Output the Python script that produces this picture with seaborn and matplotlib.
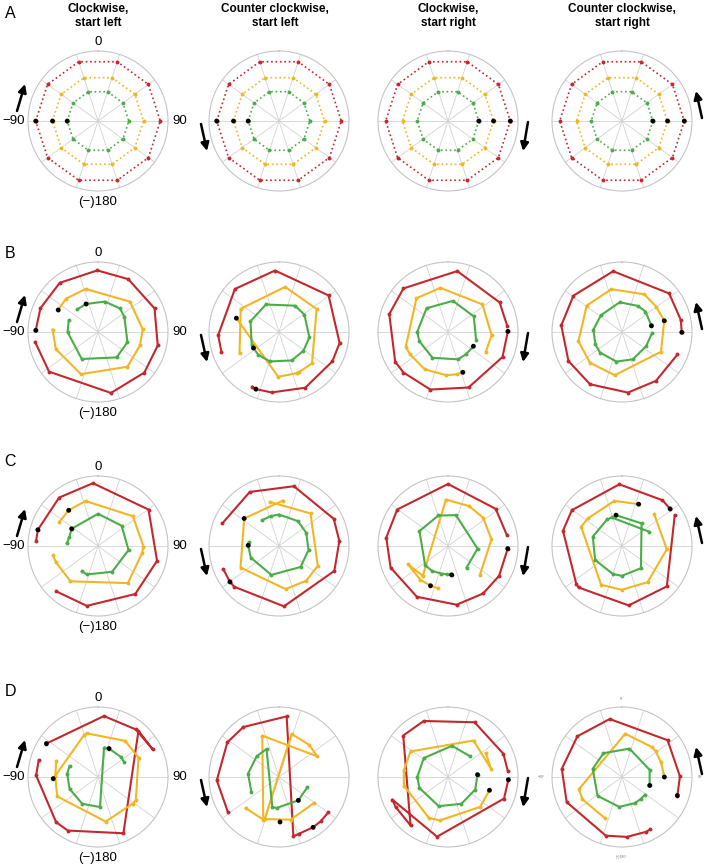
import numpy as np
import matplotlib
matplotlib.use("Agg")
import matplotlib.pyplot as plt
from matplotlib.patches import FancyArrowPatch
import seaborn as sns

# ---------------- data (theta in degrees clockwise from top, r as fraction of max) -------------
col_titles = ["Clockwise,\nstart left", "Counter clockwise,\nstart left",
              "Clockwise,\nstart right", "Counter clockwise,\nstart right"]
row_letters = ["A", "B", "C", "D"]
grid_angles = [18, 54, 90, 126, 162, 198, 234, 270, 306, 342]

# Row A: ideal trajectories (dotted)
A_angles_left = [-90, -54, -18, 18, 54, 90, 126, 162, 198, 234, 270]
A_angles_right = [90, 126, 162, 198, 234, 270, 306, 342, 378, 414, 450]
A_ring_r = {"red": 0.89, "yellow": 0.65, "green": 0.44}
A_start = [-90, -90, 90, 90]

# Row B
B1_red_theta = [-88.5, -67.6, -37.9, -0.6, 29.8, 67.3, 102.7, 131.2, 168, 231, 261]
B1_red_r = [0.89, 0.89, 0.89, 0.88, 0.87, 0.875, 0.875, 0.88, 0.89, 0.90, 0.91]
B1_yellow_theta = [-61, -44, -16, 46.5, 86.6, 107.7, 139.8, 202, 248, 273]
B1_yellow_r = [0.65, 0.66, 0.64, 0.63, 0.64, 0.63, 0.65, 0.65, 0.65, 0.65]
B1_green_theta = [-43, -23, 12.5, 42.9, 60, 109, 143.7, 211, 270, 292]
B1_green_r = [0.44, 0.435, 0.445, 0.46, 0.435, 0.445, 0.45, 0.45, 0.435, 0.45]
B1_start_theta = [-88.5, -61, -23]
B1_start_r = [0.89, 0.65, 0.435]

B2_red_theta = [-153.9, -157.9, -173, 154.8, 118.8, 100.3, 53.6, -3.7, -45.7, -93, -109]
B2_red_r = [0.87, 0.88, 0.87, 0.88, 0.87, 0.88, 0.88, 0.88, 0.88, 0.87, 0.87]
B2_yellow_theta = [-72, -179, 156.7, 153, 133.5, 58.6, 7.7, -58.8, -118.3]
B2_yellow_r = [0.64, 0.64, 0.64, 0.64, 0.65, 0.63, 0.65, 0.64, 0.64]
B2_green_theta = [-122, -137.6, -163, 155.9, 127.5, 100, 55.6, 31.3, -25.4, -69.4, -114.9]
B2_green_r = [0.43, 0.44, 0.44, 0.445, 0.44, 0.44, 0.44, 0.44, 0.435, 0.435, 0.43]
B2_start_theta = [-157.9, -72, -122]
B2_start_r = [0.88, 0.64, 0.43]

B3_red_theta = [89.4, 114.7, 159.7, -163, -132.3, -119.4, -73.1, -45.6, 8.6, 60.2, 84]
B3_red_r = [0.855, 0.857, 0.845, 0.86, 0.86, 0.866, 0.877, 0.89, 0.88, 0.85, 0.85]
B3_yellow_theta = [159.8, 168, -177.8, -148.2, -120.6, -109.4, -43, -9.7, 51.3, 94.3, 117.6]
B3_yellow_r = [0.613, 0.617, 0.618, 0.627, 0.63, 0.64, 0.66, 0.64, 0.63, 0.625, 0.61]
B3_green_theta = [119.2, 141, 160.1, -149, -107.8, -90, -42, 9, 58.9, 105]
B3_green_r = [0.416, 0.41, 0.415, 0.43, 0.43, 0.44, 0.457, 0.45, 0.43, 0.415]
B3_start_theta = [89.4, 159.8, 119.2]
B3_start_r = [0.855, 0.613, 0.416]

B4_red_theta = [90.3, 78.3, 50.7, -8.3, -53.2, -83.8, -118.5, -148.5, 174.4, 145.2, 112]
B4_red_r = [0.854, 0.857, 0.87, 0.877, 0.866, 0.873, 0.87, 0.875, 0.87, 0.85, 0.855]
B4_yellow_theta = [75.1, 53.2, 30.8, -13.8, -53.2, -102, -133.8, -170.5, 117, 75.1]
B4_yellow_r = [0.625, 0.607, 0.626, 0.63, 0.63, 0.636, 0.634, 0.626, 0.624, 0.625]
B4_green_theta = [78, 48.9, 31.3, -4.4, -51.7, -85.4, -115.1, -133.2, -169.3, 158.3, 120.5, 91.9]
B4_green_r = [0.43, 0.445, 0.436, 0.426, 0.385, 0.41, 0.42, 0.43, 0.43, 0.42, 0.40, 0.43]
B4_start_theta = [90.3, 75.1, 78]
B4_start_r = [0.854, 0.625, 0.43]

# Row C
C1_red_theta = [-85.3, -74.9, -38.8, -4.6, 54.2, 104.1, 142.2, -169.4, -137.5]
C1_red_r = [0.887, 0.89, 0.887, 0.90, 0.89, 0.87, 0.868, 0.87, 0.88]
C1_yellow_theta = [-58.3, -39.4, -15.5, 49.5, 90.8, 99.6, 141.2, -142, -110.6, -101.5]
C1_yellow_r = [0.65, 0.66, 0.667, 0.655, 0.65, 0.637, 0.68, 0.64, 0.645, 0.655]
C1_green_theta = [-85, -71.8, -56.8, 0, 49.4, 97.6, 151.4, -158.6, -147.4]
C1_green_r = [0.447, 0.43, 0.45, 0.46, 0.445, 0.44, 0.42, 0.436, 0.43]
C1_start_theta = [-74.9, -39.4, -56.8]
C1_start_r = [0.89, 0.66, 0.45]

C2_red_theta = [-112.6, -126.1, -132.3, 175.3, 114.2, 85.3, 63.6, 14, -28.4, -68.3]
C2_red_r = [0.862, 0.868, 0.865, 0.865, 0.867, 0.865, 0.873, 0.88, 0.878, 0.872]
C2_yellow_theta = [5, -51.7, -119.3, 171.3, 142, 117.2, 44.1, -11.9]
C2_yellow_r = [0.652, 0.634, 0.63, 0.623, 0.63, 0.623, 0.647, 0.644]
C2_green_theta = [-82.5, -88.8, -112.4, -165.2, 134.1, 97.7, 64, 37.2, 0, -15.5, -32.7]
C2_green_r = [0.435, 0.44, 0.436, 0.427, 0.43, 0.426, 0.432, 0.446, 0.45, 0.443, 0.44]
C2_start_theta = [-126.1, -51.7, -88.8]
C2_start_r = [0.868, 0.634, 0.44]

C3_red_theta = [92.5, 120.3, 143.5, 171.6, -148.4, -110.6, -82.3, -54.3, 0, 52.1, 79.1]
C3_red_r = [0.854, 0.845, 0.844, 0.848, 0.851, 0.876, 0.89, 0.893, 0.886, 0.864, 0.854]
C3_yellow_theta = [132.5, 81.3, 51.3, 28.1, -2.5, -139.8, -114.4, -140.9, -156.2, -166.3]
C3_yellow_r = [0.617, 0.628, 0.644, 0.645, 0.664, 0.558, 0.63, 0.623, 0.62, 0.62]
C3_green_theta = [139.3, 95.1, 14.5, -17.5, -62.4, -130, -147.4, -165.8, -177.3, 172.8]
C3_green_r = [0.407, 0.424, 0.455, 0.457, 0.46, 0.427, 0.422, 0.406, 0.403, 0.415]
C3_start_theta = [92.5, -156.2, 172.8]
C3_start_r = [0.854, 0.62, 0.415]

C4_red_theta = [52.3, 41.5, -2.5, -54.4, -75.5, -129.6, -133.7, 173.6, 132, 59.7]
C4_red_r = [0.868, 0.873, 0.882, 0.88, 0.871, 0.848, 0.858, 0.854, 0.862, 0.873]
C4_yellow_theta = [21.6, -9.6, -51.1, -64.8, -151.7, -179.6, 144.8, 94.2, 45.3]
C4_yellow_r = [0.643, 0.654, 0.627, 0.645, 0.63, 0.626, 0.633, 0.642, 0.647]
C4_green_theta = [62.3, -19.8, -29.4, -72.3, -117.4, -161.6, -179.4, 139.6, 40.9, -10.95]
C4_green_r = [0.439, 0.433, 0.435, 0.438, 0.432, 0.42, 0.427, 0.417, 0.427, 0.449]
C4_start_theta = [52.3, 21.6, -10.95]
C4_start_r = [0.868, 0.643, 0.449]

# Row D
D1_red_theta = [-57, 5.6, 38.5, 63, 41.2, 155.7, -150.6, -137.2, -88.5, -74.2]
D1_red_r = [0.878, 0.875, 0.868, 0.875, 0.878, 0.882, 0.878, 0.88, 0.885, 0.88]
D1_yellow_theta = [-69, -89.1, -115.4, 170.2, 127.8, 121.8, 64.4, 36.9, -13.8, -18.6, -92.1]
D1_yellow_r = [0.64, 0.61, 0.646, 0.646, 0.624, 0.636, 0.642, 0.646, 0.64, 0.63, 0.64]
D1_green_theta = [60, 48.6, 21.2, 11.6, 176.2, -149.6, -112.4, -83.8, -68.8]
D1_green_r = [0.43, 0.434, 0.436, 0.43, 0.43, 0.444, 0.44, 0.443, 0.436]
D1_start_theta = [-57, -92.1, 21.2]
D1_start_r = [0.878, 0.64, 0.436]

D2_red_theta = [125.6, 136.8, 145.9, 160.6, 166.4, 7.2, -35.5, -56.1, -93.1, -124.7]
D2_red_r = [0.867, 0.869, 0.868, 0.859, 0.872, 0.873, 0.877, 0.889, 0.89, 0.886]
D2_yellow_theta = [-132.9, -159.8, -22, 61.7, 42.9, 16.4, -161.2, 164.7, 126.6]
D2_yellow_r = [0.65, 0.65, 0.637, 0.622, 0.63, 0.64, 0.635, 0.632, 0.623]
D2_green_theta = [110, 140.4, -175.7, -167.5, -24, -47.2, -83.9, -119]
D2_green_r = [0.431, 0.433, 0.444, 0.439, 0.439, 0.435, 0.445, 0.45]
D2_start_theta = [145.9, 178.7, 140.4]
D2_start_r = [0.868, 0.643, 0.433]

D3_red_theta = [92.5, 111, -169.6, -112, -119.7, -142.3, -47.2, -23.4, 25.9, 67.3, 84]
D3_red_r = [0.863, 0.858, 0.867, 0.859, 0.862, 0.875, 0.872, 0.872, 0.869, 0.858, 0.858]
D3_yellow_theta = [107.7, 132.9, -169.2, -154.8, -101, -81.4, -55.7, 35, 79.5, 57.7]
D3_yellow_r = [0.622, 0.627, 0.632, 0.645, 0.642, 0.637, 0.648, 0.636, 0.627, 0.639]
D3_green_theta = [85.5, 114.9, 153.7, -162.3, -111, -90, -52, 7.3, 47.2]
D3_green_r = [0.423, 0.428, 0.428, 0.437, 0.437, 0.44, 0.439, 0.449, 0.433]
D3_start_theta = [92.5, 107.7, 85.5]
D3_start_r = [0.863, 0.622, 0.423]

D4_red_theta = [108.5, 89.4, 51.1, -12, -47.6, -82.3, -114.4, -164.5, 175.3, 155.9, 151.5]
D4_red_r = [0.834, 0.828, 0.837, 0.847, 0.863, 0.868, 0.868, 0.869, 0.859, 0.856, 0.847]
D4_yellow_theta = [90, 69.4, 52.2, 45, 4.3, -105.7, -119.1, -157.7]
D4_yellow_r = [0.605, 0.596, 0.607, 0.605, 0.62, 0.638, 0.65, 0.638]
D4_green_theta = [107, 75.5, 14.8, -38, -74.5, -127.7, -175, 153.4, 139.1, 128.2]
D4_green_r = [0.413, 0.408, 0.419, 0.431, 0.434, 0.441, 0.429, 0.416, 0.412, 0.414]
D4_start_theta = [108.5, 90, 107]
D4_start_r = [0.834, 0.605, 0.413]

# ---------------- styling ----------------
COLORS = {"red": "#c3282c", "yellow": "#f2b624", "green": "#4bad47"}
W, H = 705, 867
R = 70
col_cx = [98, 279, 448, 622]
row_cy = [121, 332, 546, 777]

plt.rcParams["font.family"] = ["Liberation Sans", "DejaVu Sans"]

panels = {
    (1, 0): (B1_red_theta, B1_red_r, B1_yellow_theta, B1_yellow_r, B1_green_theta, B1_green_r, B1_start_theta, B1_start_r),
    (1, 1): (B2_red_theta, B2_red_r, B2_yellow_theta, B2_yellow_r, B2_green_theta, B2_green_r, B2_start_theta, B2_start_r),
    (1, 2): (B3_red_theta, B3_red_r, B3_yellow_theta, B3_yellow_r, B3_green_theta, B3_green_r, B3_start_theta, B3_start_r),
    (1, 3): (B4_red_theta, B4_red_r, B4_yellow_theta, B4_yellow_r, B4_green_theta, B4_green_r, B4_start_theta, B4_start_r),
    (2, 0): (C1_red_theta, C1_red_r, C1_yellow_theta, C1_yellow_r, C1_green_theta, C1_green_r, C1_start_theta, C1_start_r),
    (2, 1): (C2_red_theta, C2_red_r, C2_yellow_theta, C2_yellow_r, C2_green_theta, C2_green_r, C2_start_theta, C2_start_r),
    (2, 2): (C3_red_theta, C3_red_r, C3_yellow_theta, C3_yellow_r, C3_green_theta, C3_green_r, C3_start_theta, C3_start_r),
    (2, 3): (C4_red_theta, C4_red_r, C4_yellow_theta, C4_yellow_r, C4_green_theta, C4_green_r, C4_start_theta, C4_start_r),
    (3, 0): (D1_red_theta, D1_red_r, D1_yellow_theta, D1_yellow_r, D1_green_theta, D1_green_r, D1_start_theta, D1_start_r),
    (3, 1): (D2_red_theta, D2_red_r, D2_yellow_theta, D2_yellow_r, D2_green_theta, D2_green_r, D2_start_theta, D2_start_r),
    (3, 2): (D3_red_theta, D3_red_r, D3_yellow_theta, D3_yellow_r, D3_green_theta, D3_green_r, D3_start_theta, D3_start_r),
    (3, 3): (D4_red_theta, D4_red_r, D4_yellow_theta, D4_yellow_r, D4_green_theta, D4_green_r, D4_start_theta, D4_start_r),
}

fig = plt.figure(figsize=(W / 100, H / 100), dpi=100)
fig.patch.set_facecolor("white")


def fx(px):
    return px / W


def fy(py):
    return 1 - py / H


def make_polar(cx, cy):
    ax = fig.add_axes([fx(cx - R), fy(cy + R), 2 * R / W, 2 * R / H], projection="polar")
    ax.set_theta_zero_location("N")
    ax.set_theta_direction(-1)
    ax.set_facecolor("none")
    return ax


def finish_polar(ax):
    ax.set_ylim(0, 1)
    ax.set_yticks([])
    ax.set_xticks(np.radians(grid_angles))
    ax.set_xticklabels([])
    ax.xaxis.grid(True, color="#d2d2d2", lw=0.6)
    ax.spines["polar"].set_color("#c4c4c4")
    ax.spines["polar"].set_linewidth(0.8)
    ax.set_xlabel("")
    ax.set_ylabel("")


def trace(ax, theta, r, color, dotted=False):
    sns.lineplot(x=np.radians(theta), y=r, sort=False, estimator=None, ax=ax,
                 color=color, lw=1.2 if dotted else 1.5,
                 linestyle=":" if dotted else "-",
                 marker="o", markersize=2.8, markeredgewidth=0, zorder=3)


def starts(ax, theta, r):
    sns.scatterplot(x=np.radians(theta), y=r, ax=ax, color="black", s=12,
                    edgecolor="none", zorder=6, legend=False)


for row in range(4):
    for col in range(4):
        cx, cy = col_cx[col], row_cy[row]
        ax = make_polar(cx, cy)
        if row == 0:
            angles = A_angles_left if col < 2 else A_angles_right
            for name in ["red", "yellow", "green"]:
                trace(ax, angles, [A_ring_r[name]] * len(angles), COLORS[name], dotted=True)
            starts(ax, [A_start[col]] * 3, [A_ring_r["red"], A_ring_r["yellow"], A_ring_r["green"]])
        else:
            rt, rr, yt, yr, gt, gr, st, sr = panels[(row, col)]
            trace(ax, rt, rr, COLORS["red"])
            trace(ax, yt, yr, COLORS["yellow"])
            trace(ax, gt, gr, COLORS["green"])
            starts(ax, st, sr)
        finish_polar(ax)

        # direction arrows
        if col == 0:
            tail, head = (cx - 81, cy - 10), (cx - 73, cy - 37)
        elif col == 1:
            tail, head = (cx - 78, cy + 3), (cx - 72, cy + 30)
        elif col == 2:
            tail, head = (cx + 80, cy + 1), (cx + 75, cy + 30)
        else:
            tail, head = (cx + 80, cy - 3), (cx + 74, cy - 30)
        arr = FancyArrowPatch((fx(tail[0]), fy(tail[1])), (fx(head[0]), fy(head[1])),
                              transform=fig.transFigure, arrowstyle="-|>",
                              mutation_scale=12, color="black", lw=1.8,
                              shrinkA=0, shrinkB=0)
        fig.add_artist(arr)

        # angle labels in first column
        if col == 0:
            fig.text(fx(cx), fy(cy - 79), "0", ha="center", va="center", fontsize=9.5)
            fig.text(fx(cx + 74), fy(cy), "90", ha="left", va="center", fontsize=9.5)
            fig.text(fx(cx - 73), fy(cy), "\u221290", ha="right", va="center", fontsize=9.5)
            fig.text(fx(cx), fy(cy + 81), "(\u2212)180", ha="center", va="center", fontsize=9.5)

# tiny stray labels seen on the last panel
cx, cy = col_cx[3], row_cy[3]
for txt, px, py in [("0\u00b0", cx, cy - 78), ("\u221290\u00b0", cx - 81, cy),
                    ("90\u00b0", cx + 79, cy), ("(\u2212)180\u00b0", cx, cy + 80)]:
    fig.text(fx(px), fy(py), txt, ha="center", va="center", fontsize=2.5, color="#777777")

# column titles and row letters
for col, t in enumerate(col_titles):
    fig.text(fx(col_cx[col] - 4 if col == 1 else col_cx[col]), fy(16), t, ha="center", va="center",
             fontsize=8.5, fontweight="bold", linespacing=1.15)
for lab, py in zip(row_letters, [13, 253, 462, 692]):
    fig.text(fx(10), fy(py), lab, ha="center", va="center", fontsize=11.5)

fig.savefig("out.png", dpi=100, facecolor="white")
